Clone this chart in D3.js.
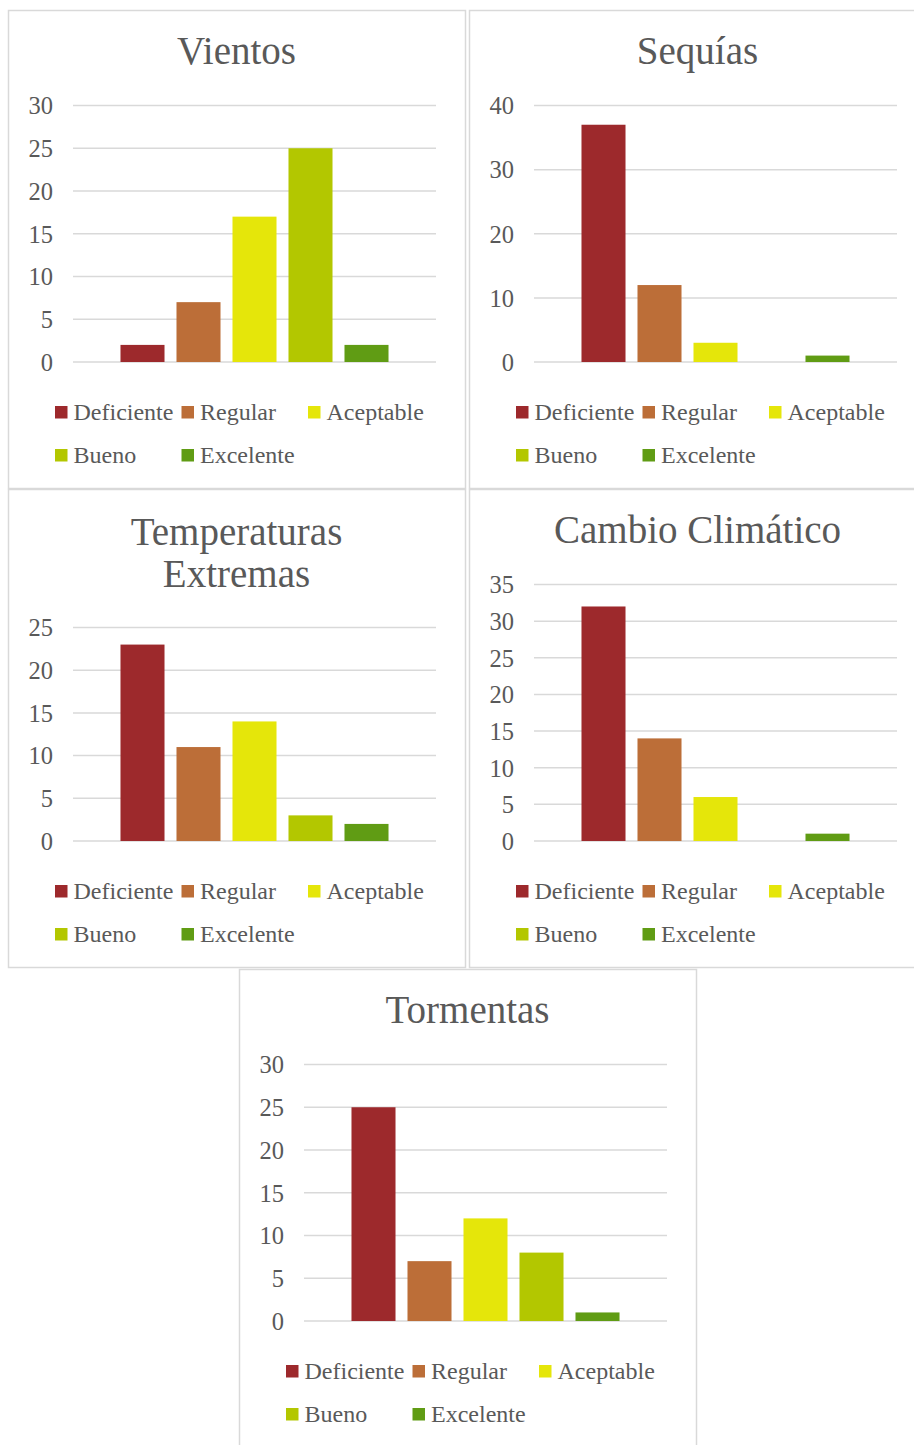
<!DOCTYPE html>
<html>
<head>
<meta charset="utf-8">
<script src="https://cdn.jsdelivr.net/npm/d3@7"></script>
<style>
  html, body { margin: 0; padding: 0; background: #ffffff; }
  svg { display: block; }
  text { font-family: "Liberation Serif", "Times New Roman", serif; fill: #595959; }
</style>
</head>
<body>
<svg id="chart" width="914" height="1445"></svg>
<script>
// Rating categories (one bar per category in every chart)
const series = ["Deficiente", "Regular", "Aceptable", "Bueno", "Excelente"];
const seriesColors = ["#9d292c", "#bc6e38", "#e5e60a", "#b3c700", "#609c14"];

// Chart titles (multi-line titles split into lines)
const titles = [["Vientos"], ["Sequías"], ["Temperaturas", "Extremas"], ["Cambio Climático"], ["Tormentas"]];

// Counts per rating for each hazard
const vientos = [2, 7, 17, 25, 2];
const sequias = [37, 12, 3, 0, 1];
const temperaturas = [23, 11, 14, 3, 2];
const cambioClimatico = [32, 14, 6, 0, 1];
const tormentas = [25, 7, 12, 8, 1];

// Y-axis maximum and tick step per chart
const axisMax = [30, 40, 25, 35, 30];
const axisStep = [5, 10, 5, 5, 5];

const values = [vientos, sequias, temperaturas, cambioClimatico, tormentas];

// Panel frames
const panels = [
  { x: 8.5, y: 10.5 },
  { x: 469.5, y: 10.5 },
  { x: 8.5, y: 489.5 },
  { x: 469.5, y: 489.5 },
  { x: 239.5, y: 969.5 }
];
const panelW = 457, panelH = 478;

const svg = d3.select("#chart");

panels.forEach((p, i) => {
  const g = svg.append("g").attr("transform", `translate(${p.x},${p.y})`);

  // frame
  g.append("rect")
    .attr("x", 0).attr("y", 0)
    .attr("width", panelW).attr("height", panelH)
    .attr("fill", "#ffffff")
    .attr("stroke", "#d9d9d9")
    .attr("stroke-width", 1.5);

  // title
  const lines = titles[i];
  const t = g.append("text")
    .attr("text-anchor", "middle")
    .attr("font-size", 39);
  lines.forEach((ln, k) => {
    t.append("tspan")
      .attr("x", panelW / 2 - 0.5)
      .attr("y", (lines.length > 1 ? 55 : 53) + k * 42)
      .text(ln);
  });

  // plot area
  const plotLeft = 64.5, plotRight = 427.5;
  const plotBottom = 351.5;
  const plotTop = lines.length > 1 ? 138 : 95;

  const y = d3.scaleLinear()
    .domain([0, axisMax[i]])
    .range([plotBottom, plotTop]);

  const x = d3.scaleBand()
    .domain(series)
    .range([plotLeft, plotRight])
    .paddingInner(0.214)
    .paddingOuter(0.848);

  const ticks = d3.range(0, axisMax[i] + axisStep[i] / 2, axisStep[i]);

  // gridlines
  g.append("g").selectAll("line")
    .data(ticks)
    .join("line")
    .attr("x1", plotLeft).attr("x2", plotRight)
    .attr("y1", d => y(d)).attr("y2", d => y(d))
    .attr("stroke", "#d9d9d9")
    .attr("stroke-width", 1.5);

  // y axis labels
  const axis = d3.axisLeft(y).tickValues(ticks).tickSize(0).tickPadding(0);
  const ag = g.append("g")
    .attr("transform", `translate(${plotLeft - 20},0)`)
    .call(axis);
  ag.select(".domain").remove();
  ag.selectAll("text")
    .attr("font-size", 24.5)
    .attr("font-family", "Liberation Serif, serif")
    .attr("fill", "#595959")
    .attr("dy", "0.34em");

  // bars
  g.append("g").selectAll("rect")
    .data(series.map((s, k) => ({ s, v: values[i][k], c: seriesColors[k] })))
    .join("rect")
    .attr("x", d => x(d.s))
    .attr("width", x.bandwidth())
    .attr("y", d => y(d.v))
    .attr("height", d => y(0) - y(d.v))
    .attr("fill", d => d.c);

  // legend: 3 columns, 2 rows
  const legend = g.append("g");
  series.forEach((s, k) => {
    const col = k % 3, row = Math.floor(k / 3);
    const lx = 46.5 + col * 126.5;
    const ly = 401.5 + row * 43;
    legend.append("rect")
      .attr("x", lx).attr("y", ly - 6)
      .attr("width", 12.5).attr("height", 12.5)
      .attr("fill", seriesColors[k]);
    legend.append("text")
      .attr("x", lx + 18.5)
      .attr("y", ly + 8)
      .attr("font-size", 24)
      .text(s);
  });
});
</script>
</body>
</html>
